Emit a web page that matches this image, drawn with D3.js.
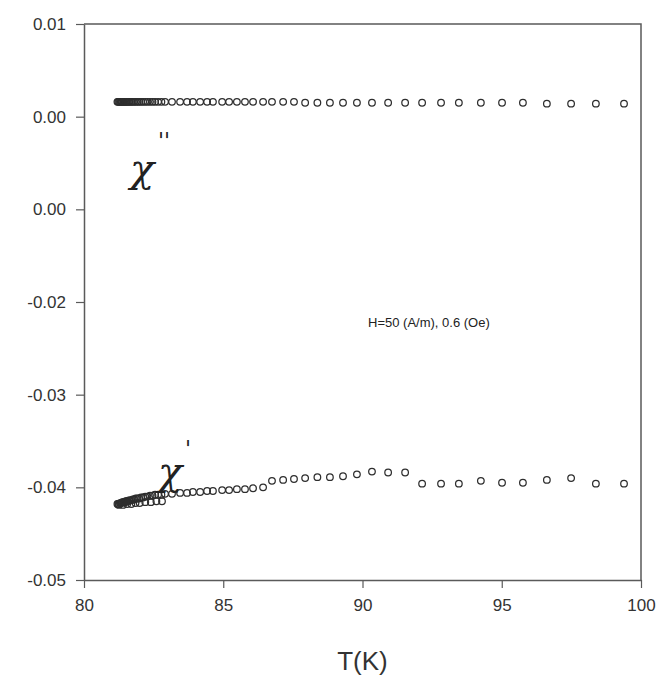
<!DOCTYPE html>
<html>
<head>
<meta charset="utf-8">
<script src="https://cdn.jsdelivr.net/npm/d3@7"></script>
<style>
  body { margin: 0; background: #fff; }
  svg { display: block; }
</style>
</head>
<body>
<div id="chart"></div>
<script>
// temperatures (K) shared by both series
var temps = [81.20, 81.23, 81.26, 81.29, 81.32, 81.35, 81.38, 81.41, 81.44, 81.47,
    81.50, 81.53, 81.57, 81.61, 81.65, 81.70, 81.75, 81.80, 81.86, 81.92,
    81.98, 82.05, 82.12, 82.20, 82.28, 82.37, 82.46, 82.55,
    82.66, 82.78, 82.91, 83.16, 83.45, 83.70, 83.91, 84.17, 84.42, 84.63,
    84.96, 85.21, 85.49, 85.78, 86.07, 86.43,
    86.75, 87.15, 87.54, 87.94, 88.38, 88.83, 89.30, 89.80, 90.34, 90.92, 91.53,
    92.14, 92.82, 93.46, 94.25, 95.01, 95.76, 96.62, 97.49, 98.38, 99.39];

// chi' (real part)
var chi1 = [-0.0418, -0.0418, -0.0418, -0.0417, -0.0417, -0.0417, -0.0416, -0.0416, -0.0416, -0.0416,
    -0.0415, -0.0415, -0.0415, -0.0414, -0.0414, -0.0414, -0.0413, -0.0413, -0.0412, -0.0412,
    -0.0412, -0.0411, -0.0411, -0.0410, -0.0410, -0.0409, -0.0409, -0.0408,
    -0.0408, -0.0408, -0.0407, -0.0407, -0.0406, -0.0406, -0.0405, -0.0405, -0.0404, -0.0404,
    -0.0403, -0.0403, -0.0402, -0.0402, -0.0401, -0.0400,
    -0.0393, -0.0392, -0.0391, -0.0390, -0.0389, -0.0389, -0.0388, -0.0386, -0.0383, -0.0384, -0.0384,
    -0.0396, -0.0396, -0.0396, -0.0393, -0.0395, -0.0395, -0.0392, -0.0390, -0.0396, -0.0396];

// second (lower) branch of chi' near the start of the run
var chi1BranchT = [81.25, 81.40, 81.55, 81.70, 81.85, 82.00, 82.20, 82.40, 82.60, 82.80];
var chi1BranchV = [-0.0419, -0.0419, -0.0418, -0.0418, -0.0417, -0.0417, -0.0416, -0.0416, -0.0415, -0.0415];

// chi'' (imaginary part)
var chi2 = [0.0016, 0.0016, 0.0016, 0.0016, 0.0016, 0.0016, 0.0016, 0.0016, 0.0016, 0.0016,
    0.0016, 0.0016, 0.0016, 0.0016, 0.0016, 0.0016, 0.0016, 0.0016, 0.0016, 0.0016,
    0.0016, 0.0016, 0.0016, 0.0016, 0.0016, 0.0016, 0.0016, 0.0016,
    0.0016, 0.0016, 0.0016, 0.0016, 0.0016, 0.0016, 0.0016, 0.0016, 0.0016, 0.0016,
    0.0016, 0.0016, 0.0016, 0.0016, 0.0016, 0.0016,
    0.0016, 0.0016, 0.0016, 0.0015, 0.0015, 0.0015, 0.0015, 0.0015, 0.0015, 0.0015, 0.0015,
    0.0015, 0.0015, 0.0015, 0.0015, 0.0015, 0.0015, 0.0014, 0.0014, 0.0014, 0.0014];

var xTicks = [80, 85, 90, 95, 100];
var yTicks = [0.01, 0.00, -0.01, -0.02, -0.03, -0.04, -0.05];
var yTickLabels = ["0.01", "0.00", "0.00", "-0.02", "-0.03", "-0.04", "-0.05"];

var width = 661, height = 682;
var margin = {top: 24, right: 20, bottom: 102, left: 84};

var svg = d3.select("#chart").append("svg")
    .attr("width", width)
    .attr("height", height);

var x = d3.scaleLinear().domain([80, 100]).range([margin.left, width - margin.right]);
var y = d3.scaleLinear().domain([-0.05, 0.01]).range([height - margin.bottom, margin.top]);

var axisColor = "#5a5a5a";

// frame (top and right)
svg.append("path")
    .attr("d", "M" + x(80) + "," + y(0.01) + "H" + x(100) + "V" + y(-0.05))
    .attr("fill", "none")
    .attr("stroke", axisColor)
    .attr("stroke-width", 1.5);

var xAxis = svg.append("g")
    .attr("transform", "translate(0," + y(-0.05) + ")")
    .call(d3.axisBottom(x).tickValues(xTicks).tickSize(8).tickSizeOuter(0).tickPadding(11));

var yAxis = svg.append("g")
    .attr("transform", "translate(" + x(80) + ",0)")
    .call(d3.axisLeft(y).tickValues(yTicks).tickSize(8).tickSizeOuter(0).tickPadding(10)
        .tickFormat(function (d, i) { return yTickLabels[i]; }));

[xAxis, yAxis].forEach(function (g) {
    g.select(".domain").attr("stroke", axisColor).attr("stroke-width", 1.5);
    g.selectAll(".tick line").attr("stroke", axisColor).attr("stroke-width", 1.2);
    g.selectAll(".tick text")
        .attr("fill", "#333")
        .style("font-family", "Liberation Sans, Arial, sans-serif")
        .style("font-size", "17px");
});

// data points
var pts1 = temps.map(function (t, i) { return [t, chi1[i]]; })
    .concat(chi1BranchT.map(function (t, i) { return [t, chi1BranchV[i]]; }));
var pts2 = temps.map(function (t, i) { return [t, chi2[i]]; });

svg.append("g")
    .selectAll("circle")
    .data(pts1.concat(pts2))
    .join("circle")
    .attr("cx", function (d) { return x(d[0]); })
    .attr("cy", function (d) { return y(d[1]); })
    .attr("r", 3.3)
    .attr("fill", "none")
    .attr("stroke", "#2e2e2e")
    .attr("stroke-width", 1.25);

// series labels
var serif = "DejaVu Serif, Liberation Serif, serif";
svg.append("text")
    .attr("x", 130).attr("y", 182)
    .style("font-family", serif).style("font-size", "40px").style("font-style", "italic")
    .attr("fill", "#222")
    .text("χ");
svg.append("text")
    .attr("x", 158).attr("y", 148)
    .style("font-family", serif).style("font-size", "22px")
    .attr("fill", "#222")
    .text("''");

svg.append("text")
    .attr("x", 158).attr("y", 485)
    .style("font-family", serif).style("font-size", "40px").style("font-style", "italic")
    .attr("fill", "#222")
    .text("χ");
svg.append("text")
    .attr("x", 185).attr("y", 456)
    .style("font-family", serif).style("font-size", "22px")
    .attr("fill", "#222")
    .text("'");

// annotation
svg.append("text")
    .attr("x", 368).attr("y", 327)
    .style("font-family", "Liberation Sans, Arial, sans-serif").style("font-size", "13px")
    .attr("fill", "#222")
    .text("H=50 (A/m), 0.6 (Oe)");

// axis title
svg.append("text")
    .attr("x", (x(80) + x(100)) / 2).attr("y", 670)
    .attr("text-anchor", "middle")
    .style("font-family", "Liberation Sans, Arial, sans-serif").style("font-size", "26px")
    .attr("fill", "#333")
    .text("T(K)");
</script>
</body>
</html>
